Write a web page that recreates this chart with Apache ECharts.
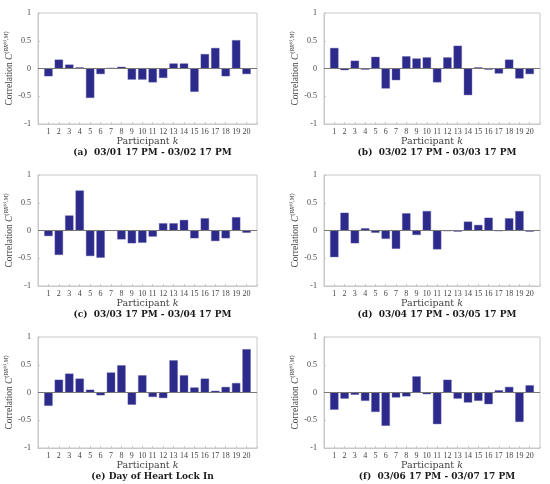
<!DOCTYPE html>
<html><head><meta charset="utf-8">
<script src="https://cdn.jsdelivr.net/npm/echarts@6/dist/echarts.min.js"></script>
<style>html,body{margin:0;padding:0;background:#fff}#c{width:550px;height:484px}</style>
</head><body><div id="c"></div>
<script>
const participants = [1,2,3,4,5,6,7,8,9,10,11,12,13,14,15,16,17,18,19,20];
const yTicks = [-1,-0.5,0,0.5,1];
const captions = [
  '(a)  03/01 17 PM - 03/02 17 PM',
  '(b)  03/02 17 PM - 03/03 17 PM',
  '(c)  03/03 17 PM - 03/04 17 PM',
  '(d)  03/04 17 PM - 03/05 17 PM',
  '(e) Day of Heart Lock In',
  '(f)  03/06 17 PM - 03/07 17 PM'
];
const corrA = [-0.14,0.16,0.07,0.02,-0.53,-0.10,0.01,0.03,-0.20,-0.20,-0.25,-0.17,0.09,0.09,-0.42,0.26,0.37,-0.14,0.51,-0.10];
const corrB = [0.37,-0.03,0.14,-0.02,0.21,-0.36,-0.21,0.22,0.18,0.20,-0.25,0.20,0.41,-0.48,0.02,-0.02,-0.09,0.16,-0.18,-0.10];
const corrC = [-0.10,-0.44,0.27,0.72,-0.46,-0.49,0,-0.16,-0.23,-0.22,-0.11,0.13,0.13,0.19,-0.14,0.22,-0.19,-0.14,0.24,-0.04];
const corrD = [-0.48,0.32,-0.23,0.04,-0.04,-0.15,-0.33,0.31,-0.08,0.35,-0.34,-0.01,-0.02,0.16,0.10,0.23,-0.01,0.22,0.35,-0.02];
const corrE = [-0.24,0.23,0.34,0.25,0.05,-0.05,0.36,0.49,-0.22,0.31,-0.08,-0.10,0.58,0.31,0.09,0.25,0.03,0.10,0.17,0.78];
const corrF = [-0.31,-0.11,-0.04,-0.15,-0.35,-0.60,-0.09,-0.07,0.29,-0.03,-0.57,0.23,-0.11,-0.18,-0.15,-0.21,0.04,0.10,-0.53,0.13];
const panels = [corrA, corrB, corrC, corrD, corrE, corrF];

const SERIF = '"Liberation Serif", "DejaVu Serif", serif';
const WIDE = '"DejaVu Serif", "Liberation Serif", serif';
const lefts = [38, 324];
const widths = [219, 216];
const tops = [13, 175, 337];
const H = 111;
const axisColor = '#c8c8c8';
const barColor = '#2c2a8a';
const txt = '#444';

const grid = [], xAxis = [], yAxis = [], series = [], title = [];
panels.forEach((vals, i) => {
  const col = i % 2, row = Math.floor(i / 2);
  grid.push({left: lefts[col], top: tops[row], width: widths[col], height: H, show: true,
    borderColor: axisColor, borderWidth: 1, backgroundColor: 'transparent'});
  xAxis.push({type: 'value', gridIndex: i, min: 0, max: 21, interval: 1,
    name: '{n|Participant }{k|k}', nameLocation: 'middle', nameGap: 11,
    nameTextStyle: {rich: {n: {fontFamily: WIDE, fontSize: 9.5, color: txt},
                           k: {fontFamily: WIDE, fontSize: 9.5, color: txt, fontStyle: 'italic'}}},
    axisLine: {show: true, onZero: false, lineStyle: {color: axisColor}},
    axisTick: {show: true, inside: true, length: 2, lineStyle: {color: axisColor}},
    splitLine: {show: false},
    axisLabel: {fontFamily: SERIF, fontSize: 8, color: txt, margin: 4,
      formatter: v => (v >= 1 && v <= 20) ? String(participants[v - 1]) : ''}
  });
  yAxis.push({type: 'value', gridIndex: i, min: -1, max: 1, interval: 0.5,
    name: '{n|Correlation }{c|C}{s|(RR}{ss|(i)}{s|,M)}', nameLocation: 'middle', nameGap: 21, nameRotate: 90,
    nameTextStyle: {rich: {
      n: {fontFamily: SERIF, fontSize: 9.5, color: txt},
      c: {fontFamily: SERIF, fontSize: 9.5, color: txt, fontStyle: 'italic'},
      s: {fontFamily: SERIF, fontSize: 6, color: txt, fontStyle: 'italic', padding: [0, 0, 7, 0]},
      ss: {fontFamily: SERIF, fontSize: 4.5, color: txt, fontStyle: 'italic', padding: [0, 0, 10, 0]}
    }},
    axisLine: {show: true, lineStyle: {color: axisColor}},
    axisTick: {show: true, inside: true, length: 2, lineStyle: {color: axisColor}},
    splitLine: {show: false},
    axisLabel: {fontFamily: SERIF, fontSize: 8, color: txt, margin: 7,
      formatter: v => { const t = yTicks.find(x => Math.abs(x - v) < 1e-9); return t === undefined ? '' : String(t); }}
  });
  series.push({type: 'bar', xAxisIndex: i, yAxisIndex: i, barWidth: 8.3,
    itemStyle: {color: barColor, borderColor: '#5a58a8', borderWidth: 0.4},
    data: vals.map((v, k) => [participants[k], v]),
    markLine: {silent: true, symbol: 'none', label: {show: false},
      lineStyle: {color: '#777', width: 1, type: 'solid'}, data: [{yAxis: 0}]},
    animation: false
  });
  title.push({text: captions[i], left: lefts[col] + widths[col] / 2, top: tops[row] + H + 19,
    textAlign: 'center',
    textStyle: {fontFamily: WIDE, fontSize: 9, fontWeight: 'bold', color: '#1a1a1a'}});
});

const chart = echarts.init(document.getElementById('c'), null, {renderer: 'canvas'});
chart.setOption({animation: false, backgroundColor: '#fff', title, grid, xAxis, yAxis, series});
</script></body></html>
